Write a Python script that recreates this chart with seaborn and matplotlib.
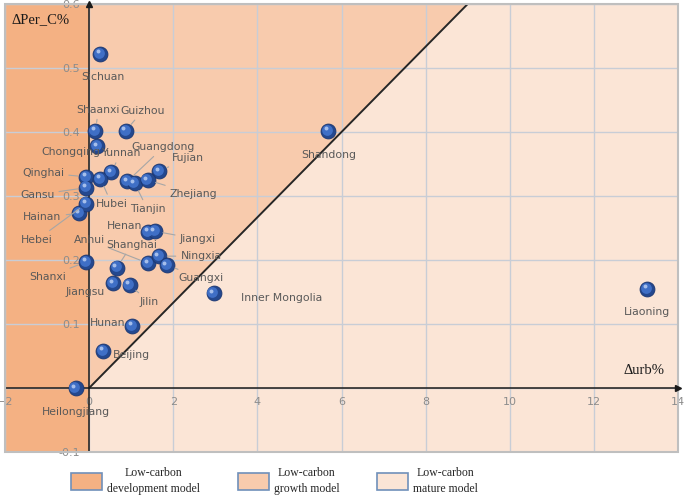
import matplotlib
matplotlib.use("Agg")
import matplotlib.pyplot as plt
import matplotlib.transforms as mtransforms
from matplotlib.patches import Patch, Rectangle
import pandas as pd
import seaborn as sns

# data
provinces = ["Sichuan", "Shaanxi", "Guizhou", "Chongqing", "Yunnan", "Guangdong",
             "Fujian", "Qinghai", "Gansu", "Hubei", "Tianjin", "Zhejiang", "Hainan",
             "Hebei", "Anhui", "Shanghai", "Henan", "Jiangxi", "Ningxia", "Guangxi",
             "Shanxi", "Jiangsu", "Jilin", "Inner Mongolia", "Hunan", "Beijing",
             "Heilongjiang", "Shandong", "Liaoning"]
d_urb = [0.27, 0.15, 0.87, 0.19, 0.53, 0.91,
         1.67, -0.07, -0.07, 0.27, 1.08, 1.39, -0.23,
         -0.07, 1.40, 0.66, 1.40, 1.56, 1.66, 1.85,
         -0.07, 0.57, 0.96, 2.96, 1.03, 0.33,
         -0.32, 5.69, 13.27]
d_per_c = [0.522, 0.402, 0.402, 0.378, 0.337, 0.323,
           0.339, 0.330, 0.313, 0.327, 0.320, 0.325, 0.273,
           0.288, 0.195, 0.188, 0.244, 0.245, 0.206, 0.192,
           0.197, 0.164, 0.161, 0.148, 0.097, 0.058,
           0.0, 0.402, 0.155]

x_ticks = [-2, 0, 2, 4, 6, 8, 10, 12, 14]
y_ticks = [-0.1, 0.0, 0.1, 0.2, 0.3, 0.4, 0.5, 0.6]
y_tick_labels = ["-0.1", "", "0.1", "0.2", "0.3", "0.4", "0.5", "0.6"]
boundary_slope = 1 / 15  # growth / mature boundary

models = ["Low-carbon\ndevelopment model", "Low-carbon\ngrowth model", "Low-carbon\nmature model"]
model_colors = ["#F4B183", "#F8CBAD", "#FBE5D6"]

# label offsets in pixels (dx, dy) and whether a leader line is drawn
label_pos = {
    "Sichuan": (2, -23, False), "Shaanxi": (3, 21, True), "Guizhou": (17, 20, True),
    "Chongqing": (-26, -6, False), "Yunnan": (9, 19, True), "Guangdong": (36, 34, True),
    "Fujian": (29, 13, True), "Qinghai": (-43, 4, True), "Gansu": (-49, -7, True),
    "Hubei": (11, -25, True), "Tianjin": (13, -26, True), "Zhejiang": (46, -14, True),
    "Hainan": (-37, -4, True), "Hebei": (-49, -36, True), "Anhui": (-59, 23, True),
    "Shanghai": (15, 23, True), "Henan": (-23, 6, False), "Jiangxi": (43, -8, True),
    "Ningxia": (42, 0, True), "Guangxi": (34, -13, True), "Shanxi": (-39, -15, True),
    "Jiangsu": (-28, -9, False), "Jilin": (20, -17, True), "Inner Mongolia": (68, -5, False),
    "Hunan": (-25, 3, False), "Beijing": (28, -4, False), "Heilongjiang": (0, -24, False),
    "Shandong": (0, -24, False), "Liaoning": (0, -23, False),
}

df = pd.DataFrame({"province": provinces, "d_urb": d_urb, "d_per_c": d_per_c})

sns.set_style("white")
plt.rcParams["font.family"] = ["DejaVu Sans"]

fig = plt.figure(figsize=(6.85, 4.99), dpi=100)
ax = fig.add_axes([5 / 685, 47 / 499, 673 / 685, 448 / 499])
ax.set_xlim(-2, 14)
ax.set_ylim(-0.1, 0.6)

# model regions
ax.set_facecolor(model_colors[2])
ax.axvspan(-2, 0, color=model_colors[0], zorder=0.1, lw=0)
top = 0.6
ax.fill([0, 0, top / boundary_slope], [0, top, top], color=model_colors[1], zorder=0.2, lw=0)
ax.plot([0, top / boundary_slope], [0, top], color="#262626", lw=1.4, zorder=2)

ax.set_axisbelow(True)
ax.grid(True, color="#C8CDD6", lw=1)
ax.set_xticks(x_ticks)
ax.set_yticks(y_ticks)
ax.set_yticklabels(y_tick_labels)
ax.tick_params(length=0, labelcolor="#8C8C8C", labelsize=8, pad=6.5)

# axes through origin
for side in ["left", "bottom"]:
    ax.spines[side].set_position(("data", 0))
    ax.spines[side].set_color("#1A1A1A")
    ax.spines[side].set_linewidth(1.1)
    ax.spines[side].set_zorder(2.6)
for side in ["top", "right"]:
    ax.spines[side].set_visible(False)
ax.add_patch(Rectangle((0, 0), 1, 1, transform=ax.transAxes, fill=False,
                       edgecolor="#BFBFBF", lw=1.5, clip_on=False, zorder=3))
ax.plot(1, 0, ">", color="#1A1A1A", ms=5, transform=ax.get_yaxis_transform(), clip_on=False, zorder=4)
ax.plot(0, 1, "^", color="#1A1A1A", ms=5, transform=ax.get_xaxis_transform(), clip_on=False, zorder=4)

# points as shaded spheres
sns.scatterplot(data=df, x="d_urb", y="d_per_c", ax=ax, s=115, color="#24488F",
                edgecolor="#1B3670", linewidth=0.6, zorder=5, legend=False)
shift = mtransforms.offset_copy(ax.transData, fig=fig, x=-1.2, y=1.2, units="dots")
ax.scatter(df["d_urb"], df["d_per_c"], s=60, color="#3F6FC6", lw=0, zorder=6, transform=shift)
shift2 = mtransforms.offset_copy(ax.transData, fig=fig, x=-2.5, y=2.5, units="dots")
ax.scatter(df["d_urb"], df["d_per_c"], s=8, color="#BFD3F5", alpha=0.8, lw=0, zorder=7, transform=shift2)

for name, xv, yv in zip(provinces, d_urb, d_per_c):
    dx, dy, leader = label_pos[name]
    props = dict(arrowstyle="-", color="#A6A6A6", lw=0.8, shrinkA=1, shrinkB=6) if leader else None
    ax.annotate(name, xy=(xv, yv), xytext=(dx, dy), textcoords="offset pixels",
                ha="center", va="center", fontsize=7.8, color="#595959",
                arrowprops=props, zorder=8)

ax.set_xlabel("")
ax.set_ylabel("")
ax.text(0.009, 0.965, "\u0394Per_C%", transform=ax.transAxes, family=["Liberation Serif"],
        fontsize=10.5, color="#1A1A1A", va="center", ha="left")
ax.text(13.2, 0.027, "\u0394urb%", family=["Liberation Serif"],
        fontsize=10.5, color="#1A1A1A", va="center", ha="center", zorder=8)

handles = [Patch(facecolor=c, edgecolor="#7090BA", lw=1.2) for c in model_colors]
leg = fig.legend(handles, models, loc="center", bbox_to_anchor=(0.401, 0.036), ncol=3,
                 frameon=False, handlelength=2.6, handleheight=1.85, columnspacing=3.2,
                 handletextpad=0.45, prop={"family": "Liberation Serif", "size": 8.5})
for t in leg.get_texts():
    t.set_multialignment("center")
    t.set_linespacing(1.35)

fig.savefig("out.png", dpi=100)
